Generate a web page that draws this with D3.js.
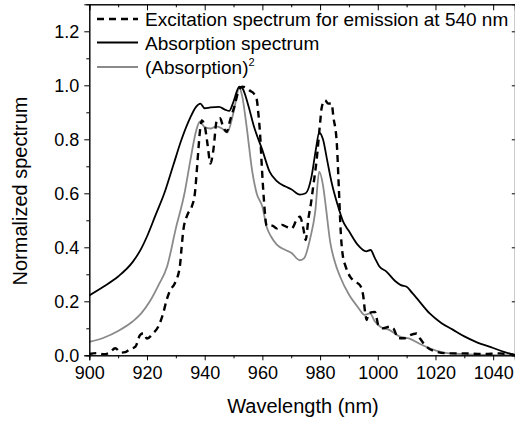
<!DOCTYPE html>
<html>
<head>
<meta charset="utf-8">
<script src="https://cdn.jsdelivr.net/npm/d3@7"></script>
<style>
  body { margin: 0; background: #fff; }
  svg text { font-family: "Liberation Sans", Arial, sans-serif; fill: #000; }
</style>
</head>
<body>
<script>
// data (wavelength in nm, normalized value)
const excWl = [900, 902.5, 905, 907, 909, 911, 912.5, 914, 916, 917.6, 918.8, 920, 922, 924, 925.6, 926.8, 928, 929.7, 931.4, 932, 932.6, 934, 935.5, 936.6, 937.2, 937.8, 938.4, 939, 940, 941, 942, 943, 944.2, 945.3, 946.4, 947.6, 948.8, 950.5, 951.6, 953, 954.5, 955.7, 957, 958, 958.6, 959.2, 959.8, 960.5, 961.5, 963.5, 965, 966.7, 968.4, 970.2, 972, 973, 974.2, 975, 976, 976.8, 977.6, 978.8, 980, 980.6, 981.7, 982.8, 984, 984.6, 985.8, 986.5, 987.2, 988, 988.7, 990.4, 992.1, 993.8, 995, 995.5, 996.2, 996.7, 999, 1000.2, 1001.9, 1004.2, 1005.4, 1007.1, 1009.4, 1011.2, 1013.5, 1014.6, 1016.9, 1020.4, 1025, 1030, 1036.6, 1042, 1048];
const excVal = [0.005, 0.008, 0.004, 0.01, 0.026, 0.01, 0.012, 0.022, 0.032, 0.075, 0.082, 0.062, 0.08, 0.108, 0.155, 0.205, 0.24, 0.268, 0.33, 0.40, 0.464, 0.52, 0.55, 0.60, 0.674, 0.76, 0.835, 0.87, 0.85, 0.78, 0.71, 0.76, 0.87, 0.878, 0.847, 0.828, 0.87, 0.93, 0.975, 0.995, 0.99, 0.98, 0.97, 0.95, 0.896, 0.82, 0.70, 0.58, 0.48, 0.48, 0.47, 0.483, 0.476, 0.47, 0.505, 0.513, 0.47, 0.427, 0.51, 0.56, 0.624, 0.723, 0.86, 0.92, 0.945, 0.932, 0.933, 0.884, 0.785, 0.62, 0.45, 0.36, 0.334, 0.291, 0.273, 0.26, 0.217, 0.168, 0.131, 0.155, 0.161, 0.112, 0.10, 0.106, 0.10, 0.063, 0.063, 0.075, 0.081, 0.063, 0.032, 0.013, 0.007, 0.007, 0.005, 0.007, 0.0];

const absWl = [900, 905, 910, 915, 918, 920, 923, 926, 929, 932, 935, 937, 938.5, 940, 942, 945, 947, 948.5, 950, 952, 953, 955, 957, 960, 962.5, 965, 968, 970, 973, 975, 977, 978.5, 979.7, 981, 982.5, 984, 986, 988, 990, 993, 996, 997.5, 999, 1000.5, 1003, 1006, 1008, 1010, 1012, 1014, 1018, 1022, 1026, 1030, 1034, 1040, 1044, 1048];
const absVal = [0.222, 0.255, 0.292, 0.345, 0.395, 0.44, 0.52, 0.60, 0.70, 0.80, 0.88, 0.92, 0.932, 0.915, 0.918, 0.92, 0.91, 0.905, 0.94, 0.995, 0.99, 0.93, 0.85, 0.76, 0.68, 0.645, 0.625, 0.615, 0.595, 0.60, 0.66, 0.76, 0.825, 0.80, 0.72, 0.64, 0.56, 0.495, 0.46, 0.41, 0.385, 0.39, 0.36, 0.33, 0.31, 0.275, 0.26, 0.254, 0.23, 0.205, 0.155, 0.12, 0.095, 0.07, 0.05, 0.027, 0.012, 0.0];

const sqWl = [900, 905, 910, 915, 918, 921, 924, 927, 930, 933, 935, 937, 938.3, 940, 942, 944, 946, 947.8, 950, 952, 953, 954.5, 956.5, 958, 960, 961.5, 963, 965, 968, 970, 973, 974.5, 976.5, 978.3, 979.7, 981, 982, 983.5, 985, 987, 990, 993, 995.5, 997.3, 999, 1001, 1004, 1007.5, 1011, 1015, 1019, 1023, 1030, 1040, 1048];
const sqVal = [0.05, 0.065, 0.09, 0.125, 0.155, 0.2, 0.26, 0.33, 0.47, 0.6, 0.72, 0.83, 0.865, 0.845, 0.84, 0.848, 0.84, 0.825, 0.9, 0.99, 0.96, 0.85, 0.68, 0.6, 0.55, 0.475, 0.44, 0.41, 0.39, 0.38, 0.352, 0.36, 0.43, 0.53, 0.68, 0.63, 0.55, 0.42, 0.35, 0.29, 0.225, 0.18, 0.15, 0.155, 0.125, 0.105, 0.094, 0.07, 0.062, 0.04, 0.022, 0.01, 0.004, 0.001, 0.0];

const xMajor = [900, 920, 940, 960, 980, 1000, 1020, 1040];
const xMinor = [910, 930, 950, 970, 990, 1010, 1030];
const yMajor = [0.0, 0.2, 0.4, 0.6, 0.8, 1.0, 1.2];
const yMinor = [0.1, 0.3, 0.5, 0.7, 0.9, 1.1];

const legendLabels = ["Excitation spectrum for emission at 540 nm", "Absorption spectrum", "(Absorption)"];

const W = 515, H = 424;
const mLeft = 89.3, mRight = 514.8, mTop = 4.3, mBottom = 355.3;

const svg = d3.select("body").append("svg")
  .attr("width", W)
  .attr("height", H);

const x = d3.scaleLinear().domain([900, 1047.5]).range([mLeft, mRight]);
const y = d3.scaleLinear().domain([0, 1.3]).range([mBottom, mTop]);

// clip so curves stay inside the frame
svg.append("defs").append("clipPath").attr("id", "plot")
  .append("rect").attr("x", mLeft).attr("y", mTop)
  .attr("width", mRight - mLeft).attr("height", mBottom - mTop);

const line = d3.line()
  .x(d => x(d[0]))
  .y(d => y(d[1]))
  .curve(d3.curveMonotoneX);

const series = [
  {wl: sqWl, val: sqVal, color: "#8a8a8a", width: 1.8, dash: null},
  {wl: absWl, val: absVal, color: "#000", width: 1.8, dash: null},
  {wl: excWl, val: excVal, color: "#000", width: 2.4, dash: "7,5"}
];

const g = svg.append("g").attr("clip-path", "url(#plot)");
series.forEach(s => {
  g.append("path")
    .datum(d3.zip(s.wl, s.val))
    .attr("d", line)
    .attr("fill", "none")
    .attr("stroke", s.color)
    .attr("stroke-width", s.width)
    .attr("stroke-dasharray", s.dash);
});

// axes
function styleAxis(sel) {
  sel.select(".domain").attr("stroke", "#000").attr("stroke-width", 1);
  sel.selectAll(".tick line").attr("stroke", "#000").attr("stroke-width", 1);
  sel.selectAll("text").attr("font-size", 18);
}

svg.append("g").attr("transform", `translate(0,${mBottom})`)
  .call(d3.axisBottom(x).tickValues(xMajor).tickSize(5).tickPadding(6).tickFormat(d3.format("d")))
  .call(styleAxis);
svg.append("g").attr("transform", `translate(0,${mBottom})`)
  .call(d3.axisBottom(x).tickValues(xMinor).tickSize(3).tickFormat(""))
  .call(styleAxis);
svg.append("g").attr("transform", `translate(0,${mTop})`)
  .call(d3.axisTop(x).tickValues(xMajor).tickSize(-6).tickFormat(""))
  .call(styleAxis);
svg.append("g").attr("transform", `translate(0,${mTop})`)
  .call(d3.axisTop(x).tickValues(xMinor).tickSize(-3).tickFormat(""))
  .call(styleAxis);

svg.append("g").attr("transform", `translate(${mLeft},0)`)
  .call(d3.axisLeft(y).tickValues(yMajor).tickSize(5).tickPadding(5).tickFormat(d3.format(".1f")))
  .call(styleAxis);
svg.append("g").attr("transform", `translate(${mLeft},0)`)
  .call(d3.axisLeft(y).tickValues(yMinor).tickSize(3).tickFormat(""))
  .call(styleAxis);
svg.append("g").attr("transform", `translate(${mRight},0)`)
  .call(d3.axisRight(y).tickValues(yMajor).tickSize(-3).tickFormat(""))
  .call(styleAxis);

svg.selectAll(".domain").attr("fill", "none");

// axis titles
svg.append("text")
  .attr("x", 303)
  .attr("y", 413)
  .attr("text-anchor", "middle")
  .attr("font-size", 20)
  .text("Wavelength (nm)");

svg.append("text")
  .attr("transform", "translate(26.5,191) rotate(-90)")
  .attr("text-anchor", "middle")
  .attr("font-size", 20)
  .text("Normalized spectrum");

// legend
const legendY = [19, 42.5, 67];
const legend = svg.append("g");
series.slice().reverse().forEach((s, i) => {
  legend.append("line")
    .attr("x1", 97).attr("x2", 138)
    .attr("y1", legendY[i]).attr("y2", legendY[i])
    .attr("stroke", s.color)
    .attr("stroke-width", s.width)
    .attr("stroke-dasharray", s.dash);
  const t = legend.append("text")
    .attr("x", 145)
    .attr("y", legendY[i] + 7)
    .attr("font-size", 19)
    .text(legendLabels[i]);
  if (i === 2) {
    t.append("tspan").attr("font-size", 11).attr("dy", -8).text("2");
  }
});
</script>
</body>
</html>
